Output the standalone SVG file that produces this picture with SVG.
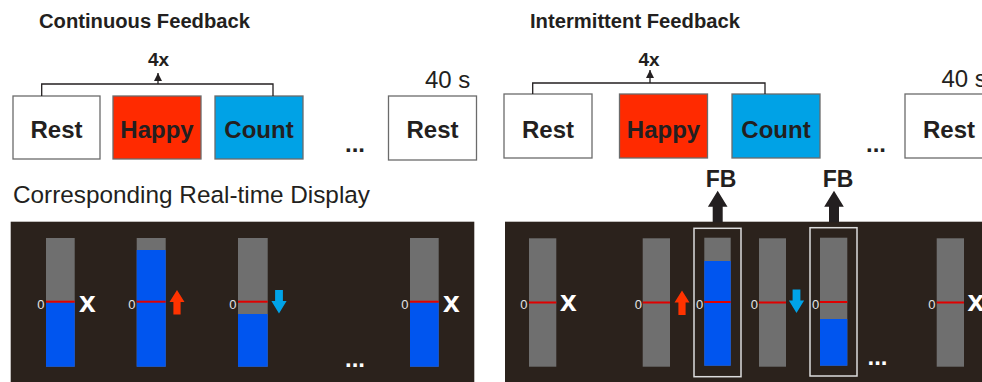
<svg xmlns="http://www.w3.org/2000/svg" width="982" height="382" viewBox="0 0 982 382">
  <style>
    .title { font-family: "Liberation Sans", Arial, sans-serif; font-weight: bold; font-size: 20px; fill: #231f20; }
    .rep { font-family: "Liberation Sans", Arial, sans-serif; font-weight: bold; font-size: 19px; fill: #231f20; text-anchor: middle; }
    .dur { font-family: "Liberation Sans", Arial, sans-serif; font-size: 24px; fill: #231f20; }
    .sub { font-family: "Liberation Sans", Arial, sans-serif; font-size: 24.5px; fill: #231f20; }
    .lbl { font-family: "Liberation Sans", Arial, sans-serif; font-weight: bold; font-size: 24px; fill: #231f20; text-anchor: middle; }
    .box { stroke: #6b6b6b; stroke-width: 1.3; }
    .rest { fill: #ffffff; }
    .happy { fill: #ff2a00; }
    .count { fill: #00a2e6; }
    .dots { font-family: "Liberation Sans", Arial, sans-serif; font-weight: bold; font-size: 24px; text-anchor: middle; }
    .bracket { fill: none; stroke: #231f20; stroke-width: 1.3; }
    .panel { fill: #2b221c; }
    .bar { fill: #6f6f6f; }
    .lvl { fill: #0055ef; }
    .zero { stroke: #e00000; stroke-width: 2; }
    .zl { font-family: "Liberation Sans", Arial, sans-serif; font-size: 13px; fill: #e4e4e4; text-anchor: end; }
    .nofb { font-family: "Liberation Sans", Arial, sans-serif; font-weight: bold; font-size: 30px; fill: #ffffff; }
    .fbbox { fill: none; stroke: #dcdcdc; stroke-width: 1.5; }
    .fb { font-family: "Liberation Sans", Arial, sans-serif; font-weight: bold; font-size: 23px; fill: #231f20; text-anchor: middle; }
  </style>
  <defs>
    <!-- small direction arrows, origin at horizontal centre / top -->
    <path id="upArrow" d="M0,0 L7.5,12 L3.6,12 L3.6,24.5 L-3.6,24.5 L-3.6,12 L-7.5,12 Z" fill="#ff3300"/>
    <path id="downArrow" d="M-3.9,0 L3.9,0 L3.9,11 L7.6,11 L0,23.5 L-7.6,11 L-3.9,11 Z" fill="#00a3e8"/>
    <!-- thick feedback arrow, tip at origin -->
    <path id="fbArrow" d="M0,0 L9.8,16 L5,16 L5,31.5 L-5,31.5 L-5,16 L-9.8,16 Z" fill="#231f20"/>
    <marker id="tri" viewBox="0 0 10 10" refX="10" refY="5" markerWidth="8" markerHeight="9" markerUnits="userSpaceOnUse" orient="auto">
      <path d="M0,0 L10,5 L0,10 Z" fill="#231f20"/>
    </marker>
  </defs>

  <!-- ===== Continuous feedback: block sequence ===== -->
  <text class="title" x="39" y="28" textLength="211" lengthAdjust="spacingAndGlyphs">Continuous Feedback</text>
  <g id="c-rest1"><rect class="box rest" x="13" y="96" width="87" height="63"/><text class="lbl" x="56.5" y="138">Rest</text></g>
  <g id="c-happy"><rect class="box happy" x="113" y="96" width="88" height="63"/><text class="lbl" x="157" y="138">Happy</text></g>
  <g id="c-count"><rect class="box count" x="215" y="96" width="88" height="63"/><text class="lbl" x="259" y="138">Count</text></g>
  <text class="dots" x="355" y="152" fill="#231f20">...</text>
  <g id="c-rest2"><rect class="box rest" x="388.5" y="96" width="88" height="64"/><text class="lbl" x="432.5" y="138">Rest</text></g>
  <text class="dur" x="425" y="87.5">40 s</text>

  <!-- ===== Intermittent feedback: block sequence ===== -->
  <text class="title" x="530" y="28" textLength="210" lengthAdjust="spacingAndGlyphs">Intermittent Feedback</text>
  <g id="i-rest1"><rect class="box rest" x="504" y="94" width="88" height="64"/><text class="lbl" x="548" y="138">Rest</text></g>
  <g id="i-happy"><rect class="box happy" x="619.5" y="94" width="88" height="64"/><text class="lbl" x="663.5" y="138">Happy</text></g>
  <g id="i-count"><rect class="box count" x="732" y="94" width="88" height="64"/><text class="lbl" x="776" y="138">Count</text></g>
  <text class="dots" x="876" y="152" fill="#231f20">...</text>
  <g id="i-rest2"><rect class="box rest" x="905" y="94" width="88" height="64"/><text class="lbl" x="949" y="137.5">Rest</text></g>
  <text class="dur" x="941.5" y="86.5">40 s</text>

  <!-- repetition brackets -->
  <g id="connectors">
    <path class="bracket" d="M41.7,96 V84 H273 V96"/>
    <line class="bracket" x1="158" y1="84" x2="158" y2="73" marker-end="url(#tri)"/>
    <text class="rep" x="158.5" y="66">4x</text>
    <path class="bracket" d="M532.7,94 V83 H765 V94"/>
    <line class="bracket" x1="650" y1="83" x2="650" y2="70" marker-end="url(#tri)"/>
    <text class="rep" x="649" y="66">4x</text>
  </g>

  <!-- ===== Continuous real-time display ===== -->
  <text class="sub" x="13" y="203" textLength="357" lengthAdjust="spacingAndGlyphs">Corresponding Real-time Display</text>
  <rect class="panel" x="10.7" y="221.7" width="463.6" height="161"/>

  <g id="c-bar1">
    <rect class="bar" x="46" y="238" width="28.7" height="128.7"/>
    <rect class="lvl" x="46" y="302.5" width="28.7" height="64.2"/>
    <line class="zero" x1="46" y1="301.7" x2="74.7" y2="301.7"/>
    <text class="zl" x="44.5" y="308.5">0</text>
    <text class="nofb" x="79" y="311.7">x</text>
  </g>
  <g id="c-bar2">
    <rect class="bar" x="136.7" y="238" width="29" height="128.7"/>
    <rect class="lvl" x="136.7" y="250" width="29" height="116.7"/>
    <line class="zero" x1="136.7" y1="301.7" x2="165.7" y2="301.7"/>
    <text class="zl" x="135.5" y="308.5">0</text>
    <use href="#upArrow" x="177" y="290"/>
  </g>
  <g id="c-bar3">
    <rect class="bar" x="238" y="238" width="29.7" height="128.7"/>
    <rect class="lvl" x="238" y="314" width="29.7" height="52.7"/>
    <line class="zero" x1="238" y1="301.7" x2="267.7" y2="301.7"/>
    <text class="zl" x="236.5" y="308.5">0</text>
    <use href="#downArrow" x="279" y="290"/>
  </g>
  <text class="dots" x="355" y="366.5" fill="#ffffff">...</text>
  <g id="c-bar4">
    <rect class="bar" x="410" y="238" width="28.7" height="128.7"/>
    <rect class="lvl" x="410" y="302.5" width="28.7" height="64.2"/>
    <line class="zero" x1="410" y1="301.7" x2="438.7" y2="301.7"/>
    <text class="zl" x="408.5" y="308.5">0</text>
    <text class="nofb" x="443" y="311.7">x</text>
  </g>

  <!-- ===== Intermittent real-time display ===== -->
  <rect class="panel" x="505" y="221.7" width="477" height="161"/>

  <g id="i-bar1">
    <rect class="bar" x="529" y="238.3" width="27.3" height="128.4"/>
    <line class="zero" x1="529" y1="302.5" x2="556.3" y2="302.5"/>
    <text class="zl" x="527.5" y="309">0</text>
    <text class="nofb" x="560" y="310.5">x</text>
  </g>
  <g id="i-bar2">
    <rect class="bar" x="642.7" y="238.3" width="27.3" height="128.4"/>
    <line class="zero" x1="642.7" y1="302.5" x2="670" y2="302.5"/>
    <text class="zl" x="642" y="309">0</text>
    <use href="#upArrow" x="682" y="290.5"/>
  </g>
  <g id="i-fb1">
    <rect class="bar" x="704.3" y="237.7" width="26.4" height="128"/>
    <rect class="lvl" x="704.3" y="261" width="26.4" height="104.7"/>
    <line class="zero" x1="704.3" y1="302" x2="730.7" y2="302"/>
    <text class="zl" x="703.3" y="308.5">0</text>
    <rect class="fbbox" x="694" y="228.3" width="47" height="148.4"/>
    <use href="#fbArrow" x="717.7" y="190.7"/>
    <text class="fb" x="721" y="187">FB</text>
  </g>
  <g id="i-bar3">
    <rect class="bar" x="759" y="238.3" width="27" height="128.4"/>
    <line class="zero" x1="759" y1="302.5" x2="786" y2="302.5"/>
    <text class="zl" x="758" y="309">0</text>
    <use href="#downArrow" x="796.5" y="289.5"/>
  </g>
  <g id="i-fb2">
    <rect class="bar" x="820" y="237.7" width="27.3" height="128"/>
    <rect class="lvl" x="820" y="319" width="27.3" height="46.7"/>
    <line class="zero" x1="820" y1="302" x2="847.3" y2="302"/>
    <text class="zl" x="819.2" y="308.5">0</text>
    <rect class="fbbox" x="810" y="227.7" width="47" height="148.3"/>
    <use href="#fbArrow" x="834" y="190.7"/>
    <text class="fb" x="838" y="187">FB</text>
  </g>
  <text class="dots" x="877.5" y="365" fill="#ffffff">...</text>
  <g id="i-bar4">
    <rect class="bar" x="936.7" y="238.3" width="27.3" height="128.4"/>
    <line class="zero" x1="936.7" y1="302.5" x2="964" y2="302.5"/>
    <text class="zl" x="935.5" y="309">0</text>
    <text class="nofb" x="967.5" y="310.5">x</text>
  </g>
</svg>
